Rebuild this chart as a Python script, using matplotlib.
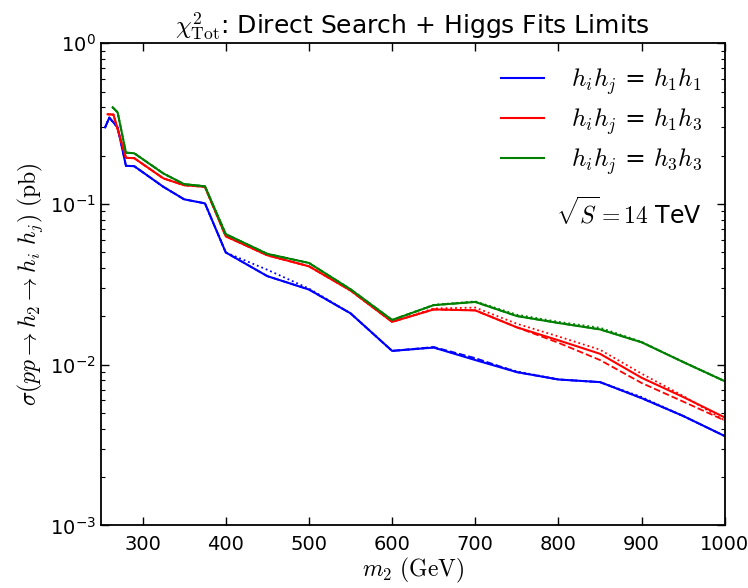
import matplotlib
matplotlib.use("Agg")
import matplotlib.pyplot as plt
from matplotlib.ticker import LogLocator, FixedLocator

plt.rcParams["mathtext.fontset"] = "cm"
plt.rcParams["font.family"] = ["DejaVu Sans"]

# m2 grid (GeV) and cross sections (pb)
m_h1h1 = [255, 260, 270, 280, 290, 325, 350, 375, 400, 450, 500, 550,
          600, 650, 700, 750, 800, 850, 900, 950, 1000]
sig_h1h1 = [0.30, 0.345, 0.30, 0.173, 0.172, 0.128, 0.107, 0.101, 0.050,
            0.0356, 0.0294, 0.0209, 0.0122, 0.0128, 0.0107, 0.0090, 0.0081,
            0.0078, 0.0062, 0.0048, 0.0036]
sig_h1h1_dot = [0.30, 0.345, 0.30, 0.173, 0.172, 0.128, 0.107, 0.101, 0.050,
                0.039, 0.0298, 0.0209, 0.0122, 0.0128, 0.0108, 0.0091, 0.0081,
                0.0078, 0.0063, 0.0048, 0.0036]
sig_h1h1_dash = [0.30, 0.345, 0.30, 0.173, 0.172, 0.128, 0.107, 0.101, 0.050,
                 0.0356, 0.0294, 0.0209, 0.0122, 0.0129, 0.0110, 0.0090, 0.0081,
                 0.0078, 0.0062, 0.0048, 0.0036]

m_h1h3 = [258, 265, 280, 290, 325, 350, 375, 400, 450, 500, 550,
          600, 650, 700, 750, 800, 850, 900, 950, 1000]
sig_h1h3 = [0.362, 0.36, 0.194, 0.193, 0.1445, 0.131, 0.128, 0.063, 0.048,
            0.041, 0.029, 0.0185, 0.0221, 0.0218, 0.0171, 0.0142, 0.0117,
            0.0083, 0.0063, 0.0047]
sig_h1h3_dot = [0.362, 0.36, 0.194, 0.193, 0.1445, 0.131, 0.128, 0.063, 0.048,
                0.041, 0.029, 0.0185, 0.0224, 0.0227, 0.0180, 0.0150, 0.0124,
                0.0088, 0.0064, 0.0045]
sig_h1h3_dash = [0.362, 0.36, 0.194, 0.193, 0.1445, 0.131, 0.128, 0.063, 0.048,
                 0.041, 0.029, 0.0185, 0.0221, 0.0218, 0.0171, 0.0137, 0.0107,
                 0.0077, 0.0059, 0.0045]

m_h3h3 = [264, 270, 280, 290, 325, 350, 375, 400, 450, 500, 550,
          600, 650, 700, 750, 800, 850, 900, 950, 1000]
sig_h3h3 = [0.40, 0.372, 0.209, 0.207, 0.155, 0.133, 0.129, 0.065, 0.049,
            0.043, 0.0295, 0.0190, 0.0235, 0.0246, 0.0201, 0.0182, 0.0166,
            0.0138, 0.0104, 0.0079]
sig_h3h3_dot = [0.40, 0.372, 0.209, 0.207, 0.155, 0.133, 0.129, 0.065, 0.049,
                0.043, 0.0295, 0.0190, 0.0236, 0.0248, 0.0205, 0.0185, 0.0170,
                0.0139, 0.0104, 0.0079]
sig_h3h3_dash = sig_h3h3

labels = [r"$h_ih_j$ = $h_1h_1$", r"$h_ih_j$ = $h_1h_3$", r"$h_ih_j$ = $h_3h_3$"]
colors = ["blue", "red", "green"]
x_ticks = [300, 400, 500, 600, 700, 800, 900, 1000]

fig = plt.figure(figsize=(7.48, 5.88), dpi=100)
ax = fig.add_axes([0.135, 0.1063, 0.834, 0.820])

series = [
    (m_h1h1, sig_h1h1, sig_h1h1_dot, sig_h1h1_dash),
    (m_h1h3, sig_h1h3, sig_h1h3_dot, sig_h1h3_dash),
    (m_h3h3, sig_h3h3, sig_h3h3_dot, sig_h3h3_dash),
]
handles = []
for (m, solid, dot, dash), color, label in zip(series, colors, labels):
    ax.plot(m, dot, color=color, lw=1.3, ls=":")
    ax.plot(m, dash, color=color, lw=1.3, ls="--")
    (line,) = ax.plot(m, solid, color=color, lw=1.5, label=label)
    handles.append(line)

ax.set_yscale("log")
ax.set_xlim(250, 1000)
ax.set_ylim(1e-3, 1)
ax.xaxis.set_major_locator(FixedLocator(x_ticks))
ax.yaxis.set_major_locator(LogLocator(base=10, numticks=10))
ax.yaxis.set_minor_locator(LogLocator(base=10, subs=range(2, 10), numticks=10))

for s in ax.spines.values():
    s.set_linewidth(1.3)
ax.tick_params(which="both", direction="in", top=True, right=True, labelsize=14)
ax.tick_params(which="major", length=6, width=1.0)
ax.tick_params(which="minor", length=3, width=0.8)
ax.tick_params(axis="x", pad=7)

ax.set_xlabel(r"$m_2\ (\mathrm{GeV})$", fontsize=17, labelpad=1)
ax.set_ylabel(r"$\sigma(pp \rightarrow h_2 \rightarrow h_i\ h_j)\ (\mathrm{pb})$",
              fontsize=17)
ax.set_title(r"$\chi^2_{\rm Tot}$: Direct Search + Higgs Fits Limits",
             fontsize=18, pad=3)

ax.legend(handles=handles, loc="upper right", frameon=False, fontsize=18,
          handlelength=1.7, handletextpad=1.1, labelspacing=0.38,
          borderaxespad=0.5)
ax.text(0.963, 0.648, r"$\sqrt{S}=14$ TeV", transform=ax.transAxes,
        ha="right", va="center", fontsize=17)

fig.savefig("out.png", dpi=100)
